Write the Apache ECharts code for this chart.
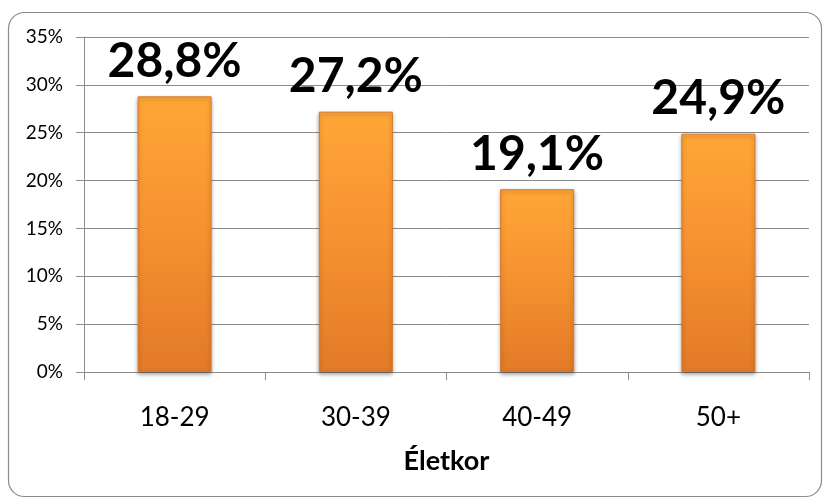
<!DOCTYPE html>
<html>
<head>
<meta charset="utf-8">
<script src="https://cdn.jsdelivr.net/npm/echarts@6/dist/echarts.min.js"></script>
<style>
  html, body { margin: 0; padding: 0; background: #fff; }
  #chart { width: 824px; height: 501px; }
</style>
</head>
<body>
<div id="chart"></div>
<script>
// Age groups and their share (percent)
const categories = ['18-29', '30-39', '40-49', '50+'];
const shares = [28.8, 27.2, 19.1, 24.9];
const axisTitle = 'Életkor';

const chart = echarts.init(document.getElementById('chart'));

const barFill = new echarts.graphic.LinearGradient(0, 0, 0, 1, [
  { offset: 0, color: '#FFA637' },
  { offset: 0.5, color: '#F69130' },
  { offset: 1, color: '#E27A27' }
]);

chart.setOption({
  animation: false,
  graphic: [{
    type: 'rect',
    shape: { x: 8.5, y: 12.5, width: 813, height: 484, r: 16 },
    style: { fill: 'none', stroke: '#8c8c8c', lineWidth: 1.2 },
    z: -1
  }],
  grid: { left: 84, right: 15, top: 37, bottom: 129, containLabel: false },
  xAxis: {
    type: 'category',
    data: categories,
    name: axisTitle,
    nameLocation: 'middle',
    nameGap: 76,
    nameTextStyle: { fontFamily: 'Lato', fontWeight: 'bold', fontSize: 27, color: '#000' },
    axisLine: { show: true, lineStyle: { color: '#8c8c8c', width: 1 } },
    axisTick: { show: true, length: 8, alignWithLabel: false, lineStyle: { color: '#8c8c8c' } },
    axisLabel: { fontFamily: 'Lato', fontSize: 26, color: '#000', margin: 33 }
  },
  yAxis: {
    type: 'value',
    min: 0,
    max: 35,
    interval: 5,
    axisLine: { show: true, lineStyle: { color: '#8c8c8c', width: 1 } },
    axisTick: { show: true, length: 8, lineStyle: { color: '#8c8c8c' } },
    axisLabel: { fontFamily: 'Lato', fontSize: 19, color: '#000', margin: 21, formatter: '{value}%' },
    splitLine: { show: true, lineStyle: { color: '#8c8c8c', width: 1 } }
  },
  series: [{
    type: 'bar',
    data: shares,
    barWidth: 74,
    itemStyle: {
      color: barFill,
      borderColor: '#D9792A',
      borderWidth: 1,
      shadowColor: 'rgba(0,0,0,0.35)',
      shadowBlur: 4,
      shadowOffsetY: 2
    },
    label: {
      show: true,
      position: 'top',
      distance: 11,
      fontFamily: 'Lato',
      fontWeight: 'bold',
      fontSize: 48,
      color: '#000',
      formatter: p => p.value.toFixed(1).replace('.', ',') + '%'
    }
  }]
});
</script>
</body>
</html>
